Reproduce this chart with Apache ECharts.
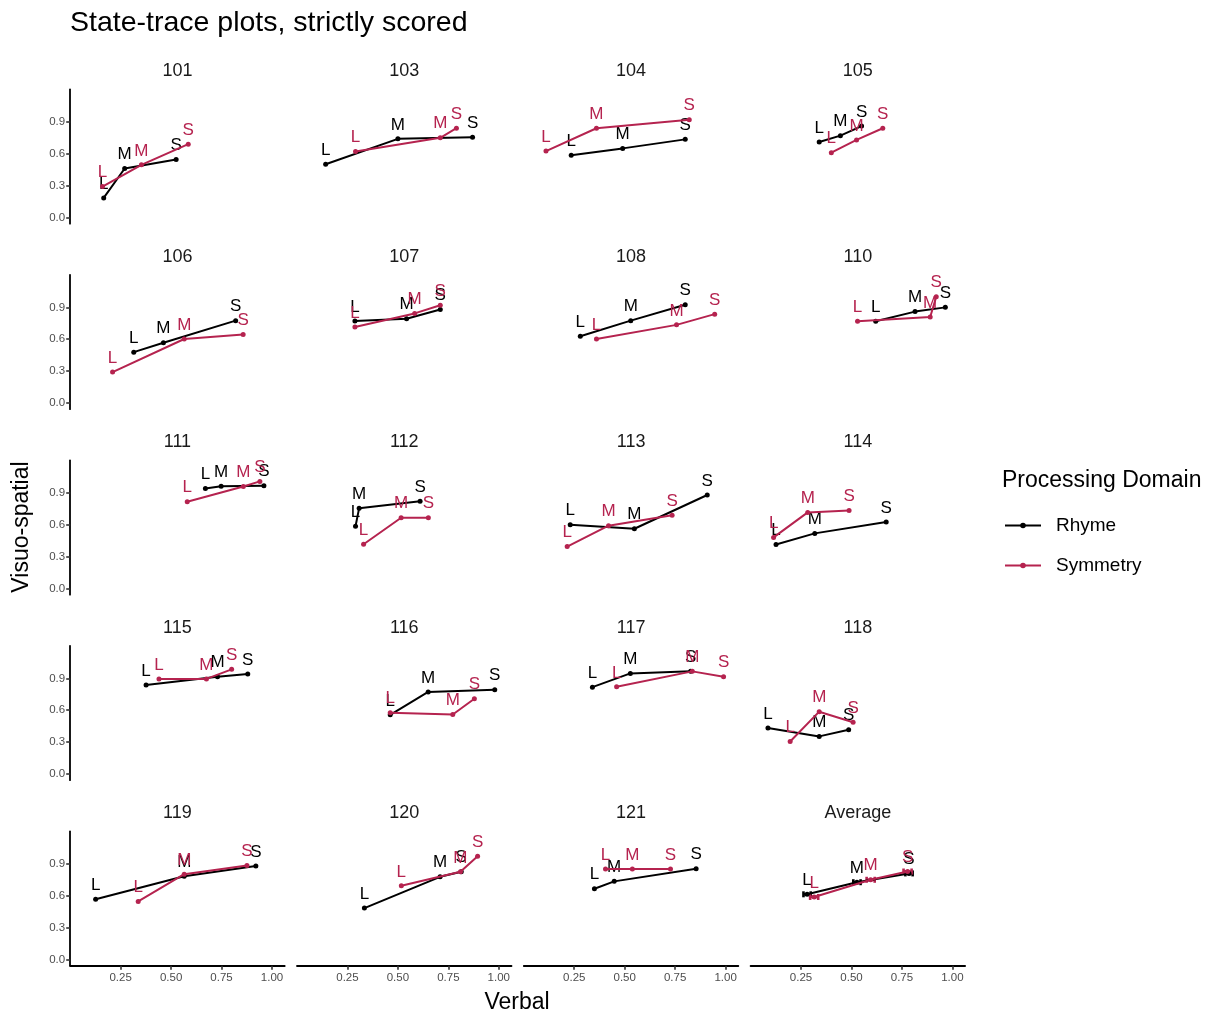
<!DOCTYPE html>
<html>
<head>
<meta charset="utf-8">
<script src="https://cdn.jsdelivr.net/npm/echarts@6/dist/echarts.min.js"></script>
<style>
html,body{margin:0;padding:0;background:#fff;}
#chart{width:1215px;height:1017px;}
</style>
</head>
<body>
<div id="chart"></div>
<script>
// ---- data ----
const panels = ['101','103','104','105','106','107','108','110','111','112','113','114','115','116','117','118','119','120','121','Average'];
const conditions = ['L','M','S'];
const rhymeVerbal = [
  [0.166,0.27,0.525],[0.142,0.50,0.87],[0.235,0.49,0.80],[0.34,0.445,0.55],
  [0.315,0.462,0.82],[0.287,0.543,0.71],[0.28,0.53,0.80],[0.62,0.815,0.965],
  [0.67,0.748,0.96],[0.29,0.308,0.61],[0.23,0.548,0.909],[0.126,0.318,0.672],
  [0.376,0.73,0.88],[0.462,0.65,0.98],[0.34,0.528,0.827],[0.086,0.34,0.486],
  [0.126,0.565,0.92],[0.334,0.709,0.814],[0.35,0.448,0.854],[0.28,0.527,0.785]
];
const rhymeVisuo = [
  [0.183,0.46,0.545],[0.50,0.74,0.755],[0.585,0.65,0.735],[0.71,0.77,0.86],
  [0.478,0.567,0.775],[0.772,0.793,0.88],[0.627,0.775,0.925],[0.77,0.86,0.90],
  [0.942,0.963,0.968],[0.585,0.756,0.822],[0.60,0.562,0.88],[0.414,0.518,0.626],
  [0.838,0.915,0.942],[0.556,0.772,0.793],[0.817,0.947,0.967],[0.433,0.353,0.416],
  [0.567,0.783,0.88],[0.483,0.778,0.826],[0.665,0.735,0.854],[0.613,0.727,0.81]
];
const symVerbal = [
  [0.16,0.353,0.585],[0.29,0.71,0.79],[0.11,0.36,0.82],[0.40,0.525,0.655],
  [0.21,0.565,0.857],[0.287,0.583,0.71],[0.36,0.757,0.946],[0.53,0.89,0.92],
  [0.58,0.858,0.94],[0.33,0.516,0.651],[0.215,0.42,0.735],[0.114,0.283,0.488],
  [0.44,0.675,0.80],[0.462,0.772,0.879],[0.46,0.835,0.99],[0.196,0.34,0.508],
  [0.337,0.565,0.876],[0.517,0.81,0.895],[0.405,0.538,0.727],[0.315,0.595,0.778]
];
const symVisuo = [
  [0.29,0.495,0.69],[0.62,0.75,0.84],[0.625,0.84,0.92],[0.61,0.73,0.84],
  [0.29,0.602,0.645],[0.714,0.843,0.92],[0.602,0.735,0.836],[0.77,0.81,1.0],
  [0.817,0.96,1.008],[0.416,0.665,0.665],[0.394,0.591,0.689],[0.48,0.716,0.733],
  [0.895,0.895,0.985],[0.576,0.559,0.708],[0.82,0.966,0.916],[0.305,0.586,0.487],
  [0.546,0.803,0.884],[0.693,0.825,0.972],[0.852,0.852,0.852],[0.588,0.75,0.828]
];
// error half-widths for the Average panel
const avgRhymeXErr = [0.018,0.018,0.018];
const avgRhymeYErr = [0.012,0.012,0.012];
const avgSymXErr = [0.02,0.02,0.02];
const avgSymYErr = [0.012,0.012,0.012];
const xTicks = [0.25,0.5,0.75,1.0];
const yTicks = [0,0.3,0.6,0.9];

// ---- layout ----
const RHYME = '#000000', SYM = '#B5234F';
const FONT = 'Liberation Sans';
const gLeft0 = 70.2, gStepX = 226.8, gW = 214.5;
const gTop0 = 89.3, gStepY = 185.5, gH = 134.4;
const nCols = 4, nRows = 5;

const chart = echarts.init(document.getElementById('chart'), null, {renderer:'canvas'});
const grids = [], xAxes = [], yAxes = [], series = [], graphics = [];

panels.forEach((p, i) => {
  const r = Math.floor(i / nCols), c = i % nCols;
  const left = gLeft0 + gStepX * c, top = gTop0 + gStepY * r;
  grids.push({left: left, top: top, width: gW, height: gH});
  const bottomRow = r === nRows - 1, leftCol = c === 0;
  xAxes.push({
    gridIndex: i, type: 'value', min: 0, max: 1.063,
    splitLine: {show: false},
    axisLine: {show: bottomRow, onZero: false, lineStyle: {color: '#000', width: 1.8}},
    axisTick: {show: bottomRow, length: 4, lineStyle: {color: '#333', width: 1.6}, customValues: xTicks},
    axisLabel: {show: bottomRow, customValues: xTicks, color: '#4D4D4D', fontSize: 11.5, margin: 6,
      fontFamily: FONT, formatter: v => v.toFixed(2)}
  });
  yAxes.push({
    gridIndex: i, type: 'value', min: -0.06, max: 1.207,
    splitLine: {show: false},
    axisLine: {show: leftCol, onZero: false, lineStyle: {color: '#000', width: 1.8}},
    axisTick: {show: leftCol, length: 4, lineStyle: {color: '#333', width: 1.6}, customValues: yTicks},
    axisLabel: {show: leftCol, customValues: yTicks, color: '#4D4D4D', fontSize: 11.5, margin: 5,
      fontFamily: FONT, formatter: v => v.toFixed(1)}
  });
  graphics.push({type: 'text', x: left + gW / 2, y: top - 18,
    style: {text: p, fill: '#1A1A1A', font: '18px "' + FONT + '"', align: 'center', verticalAlign: 'middle'}});
  const mk = (name, color, xs, ys, z) => ({
    name: name, type: 'line', xAxisIndex: i, yAxisIndex: i, z: z,
    data: conditions.map((cnd, k) => ({name: cnd, value: [xs[i][k], ys[i][k]]})),
    symbol: 'circle', symbolSize: 5, showSymbol: true,
    itemStyle: {color: color}, lineStyle: {color: color, width: 2},
    label: {show: true, position: 'top', distance: 3, formatter: '{b}', color: color,
      fontSize: 17, fontFamily: FONT},
    emphasis: {disabled: true}, animation: false
  });
  series.push(mk('Rhyme', RHYME, rhymeVerbal, rhymeVisuo, 3));
  series.push(mk('Symmetry', SYM, symVerbal, symVisuo, 4));
  if (p === 'Average') {
    const mkErr = (name, color, xs, ys, xe, ye) => ({
      name: name, type: 'custom', xAxisIndex: i, yAxisIndex: i, z: 2,
      data: conditions.map((cnd, k) => [xs[i][k], ys[i][k], xe[k], ye[k]]),
      renderItem: (params, api) => {
        const x = api.value(0), y = api.value(1), dx = api.value(2), dy = api.value(3);
        const a = api.coord([x - dx, y]), b = api.coord([x + dx, y]);
        const u = api.coord([x, y - dy]), d = api.coord([x, y + dy]);
        const st = {stroke: color, lineWidth: 2.6};
        return {type: 'group', children: [
          {type: 'line', shape: {x1: a[0], y1: a[1], x2: b[0], y2: b[1]}, style: st},
          {type: 'line', shape: {x1: a[0], y1: a[1] - 3, x2: a[0], y2: a[1] + 3}, style: st},
          {type: 'line', shape: {x1: b[0], y1: b[1] - 3, x2: b[0], y2: b[1] + 3}, style: st},
          {type: 'line', shape: {x1: u[0], y1: u[1], x2: d[0], y2: d[1]}, style: st}
        ]};
      },
      animation: false, silent: true
    });
    series.push(mkErr('Rhyme', RHYME, rhymeVerbal, rhymeVisuo, avgRhymeXErr, avgRhymeYErr));
    series.push(mkErr('Symmetry', SYM, symVerbal, symVisuo, avgSymXErr, avgSymYErr));
  }
});

graphics.push({type: 'text', x: 70, y: 23,
  style: {text: 'State-trace plots, strictly scored', fill: '#000', font: '28.5px "' + FONT + '"', verticalAlign: 'middle'}});
graphics.push({type: 'text', x: 517, y: 1003,
  style: {text: 'Verbal', fill: '#000', font: '23px "' + FONT + '"', align: 'center', verticalAlign: 'middle'}});
graphics.push({type: 'text', x: 22, y: 527, rotation: Math.PI / 2,
  style: {text: 'Visuo-spatial', fill: '#000', font: '23px "' + FONT + '"', align: 'center', verticalAlign: 'middle'}});
graphics.push({type: 'text', x: 1002, y: 481,
  style: {text: 'Processing Domain', fill: '#000', font: '23px "' + FONT + '"', verticalAlign: 'middle'}});

chart.setOption({
  animation: false,
  grid: grids, xAxis: xAxes, yAxis: yAxes, series: series,
  graphic: graphics,
  legend: {
    orient: 'vertical', left: 999, top: 511, itemWidth: 36, itemHeight: 7, itemGap: 21,
    data: ['Rhyme', 'Symmetry'],
    textStyle: {fontSize: 19, color: '#000', fontFamily: FONT, padding: [0, 0, 0, 10]}
  }
});
</script>
</body>
</html>
